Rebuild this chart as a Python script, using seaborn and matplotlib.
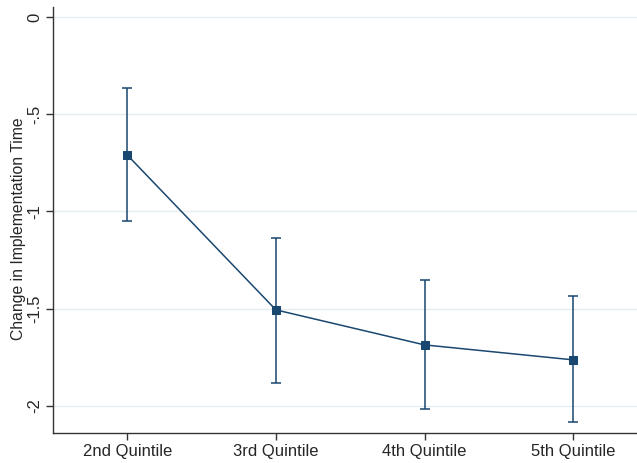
import numpy as np
import pandas as pd
import matplotlib
matplotlib.use("Agg")
import matplotlib.pyplot as plt
import seaborn as sns

# datos
quintiles = ["2nd Quintile", "3rd Quintile", "4th Quintile", "5th Quintile"]
estimate = [-0.71, -1.506, -1.686, -1.763]
ci_low = [-1.049, -1.882, -2.015, -2.082]
ci_high = [-0.365, -1.136, -1.352, -1.434]
y_ticks = [0, -0.5, -1, -1.5, -2]
y_ticklabels = ["0", "-.5", "-1", "-1.5", "-2"]

navy = "#1a476f"
grid_col = "#e4eef1"

sns.set_style("white")
plt.rcParams["font.family"] = ["Liberation Sans", "DejaVu Sans"]

df = pd.DataFrame({"q": quintiles, "pos": range(len(quintiles)), "est": estimate})

fig = plt.figure(figsize=(6.37, 4.63), dpi=100)
ax = fig.add_axes([0.0832, 0.0648, 0.9168, 0.92])

for t in y_ticks:
    ax.axhline(t, color=grid_col, lw=1.0, zorder=0)

# barras de error (intervalos)
yerr = [np.array(estimate) - np.array(ci_low), np.array(ci_high) - np.array(estimate)]
ax.errorbar(df["pos"], df["est"], yerr=yerr, fmt="none", ecolor=navy,
            elinewidth=1.1, capsize=3.5, capthick=1.1, zorder=2)
sns.lineplot(data=df, x="pos", y="est", ax=ax, color=navy, lw=1.1,
             marker="s", markersize=6, markeredgecolor=navy, zorder=3)

ax.set_xlim(-0.5, 3.43)
ax.set_ylim(-2.139, 0.051)
ax.set_xticks(df["pos"])
ax.set_xticklabels(quintiles, fontsize=12)
ax.set_yticks(y_ticks)
ax.set_yticklabels(y_ticklabels, fontsize=12, rotation=90, va="center")
ax.set_xlabel("")
ax.set_ylabel("Change in Implementation Time", fontsize=11.3)
ax.yaxis.set_label_coords(-0.047, 0.48)

for s in ["top", "right"]:
    ax.spines[s].set_visible(False)
for s in ["left", "bottom"]:
    ax.spines[s].set_color("#333333")
    ax.spines[s].set_linewidth(1.0)
ax.tick_params(axis="both", direction="out", length=5, width=1.0,
               color="#333333", left=True, bottom=True, pad=3)

fig.savefig("out.png", dpi=100)
